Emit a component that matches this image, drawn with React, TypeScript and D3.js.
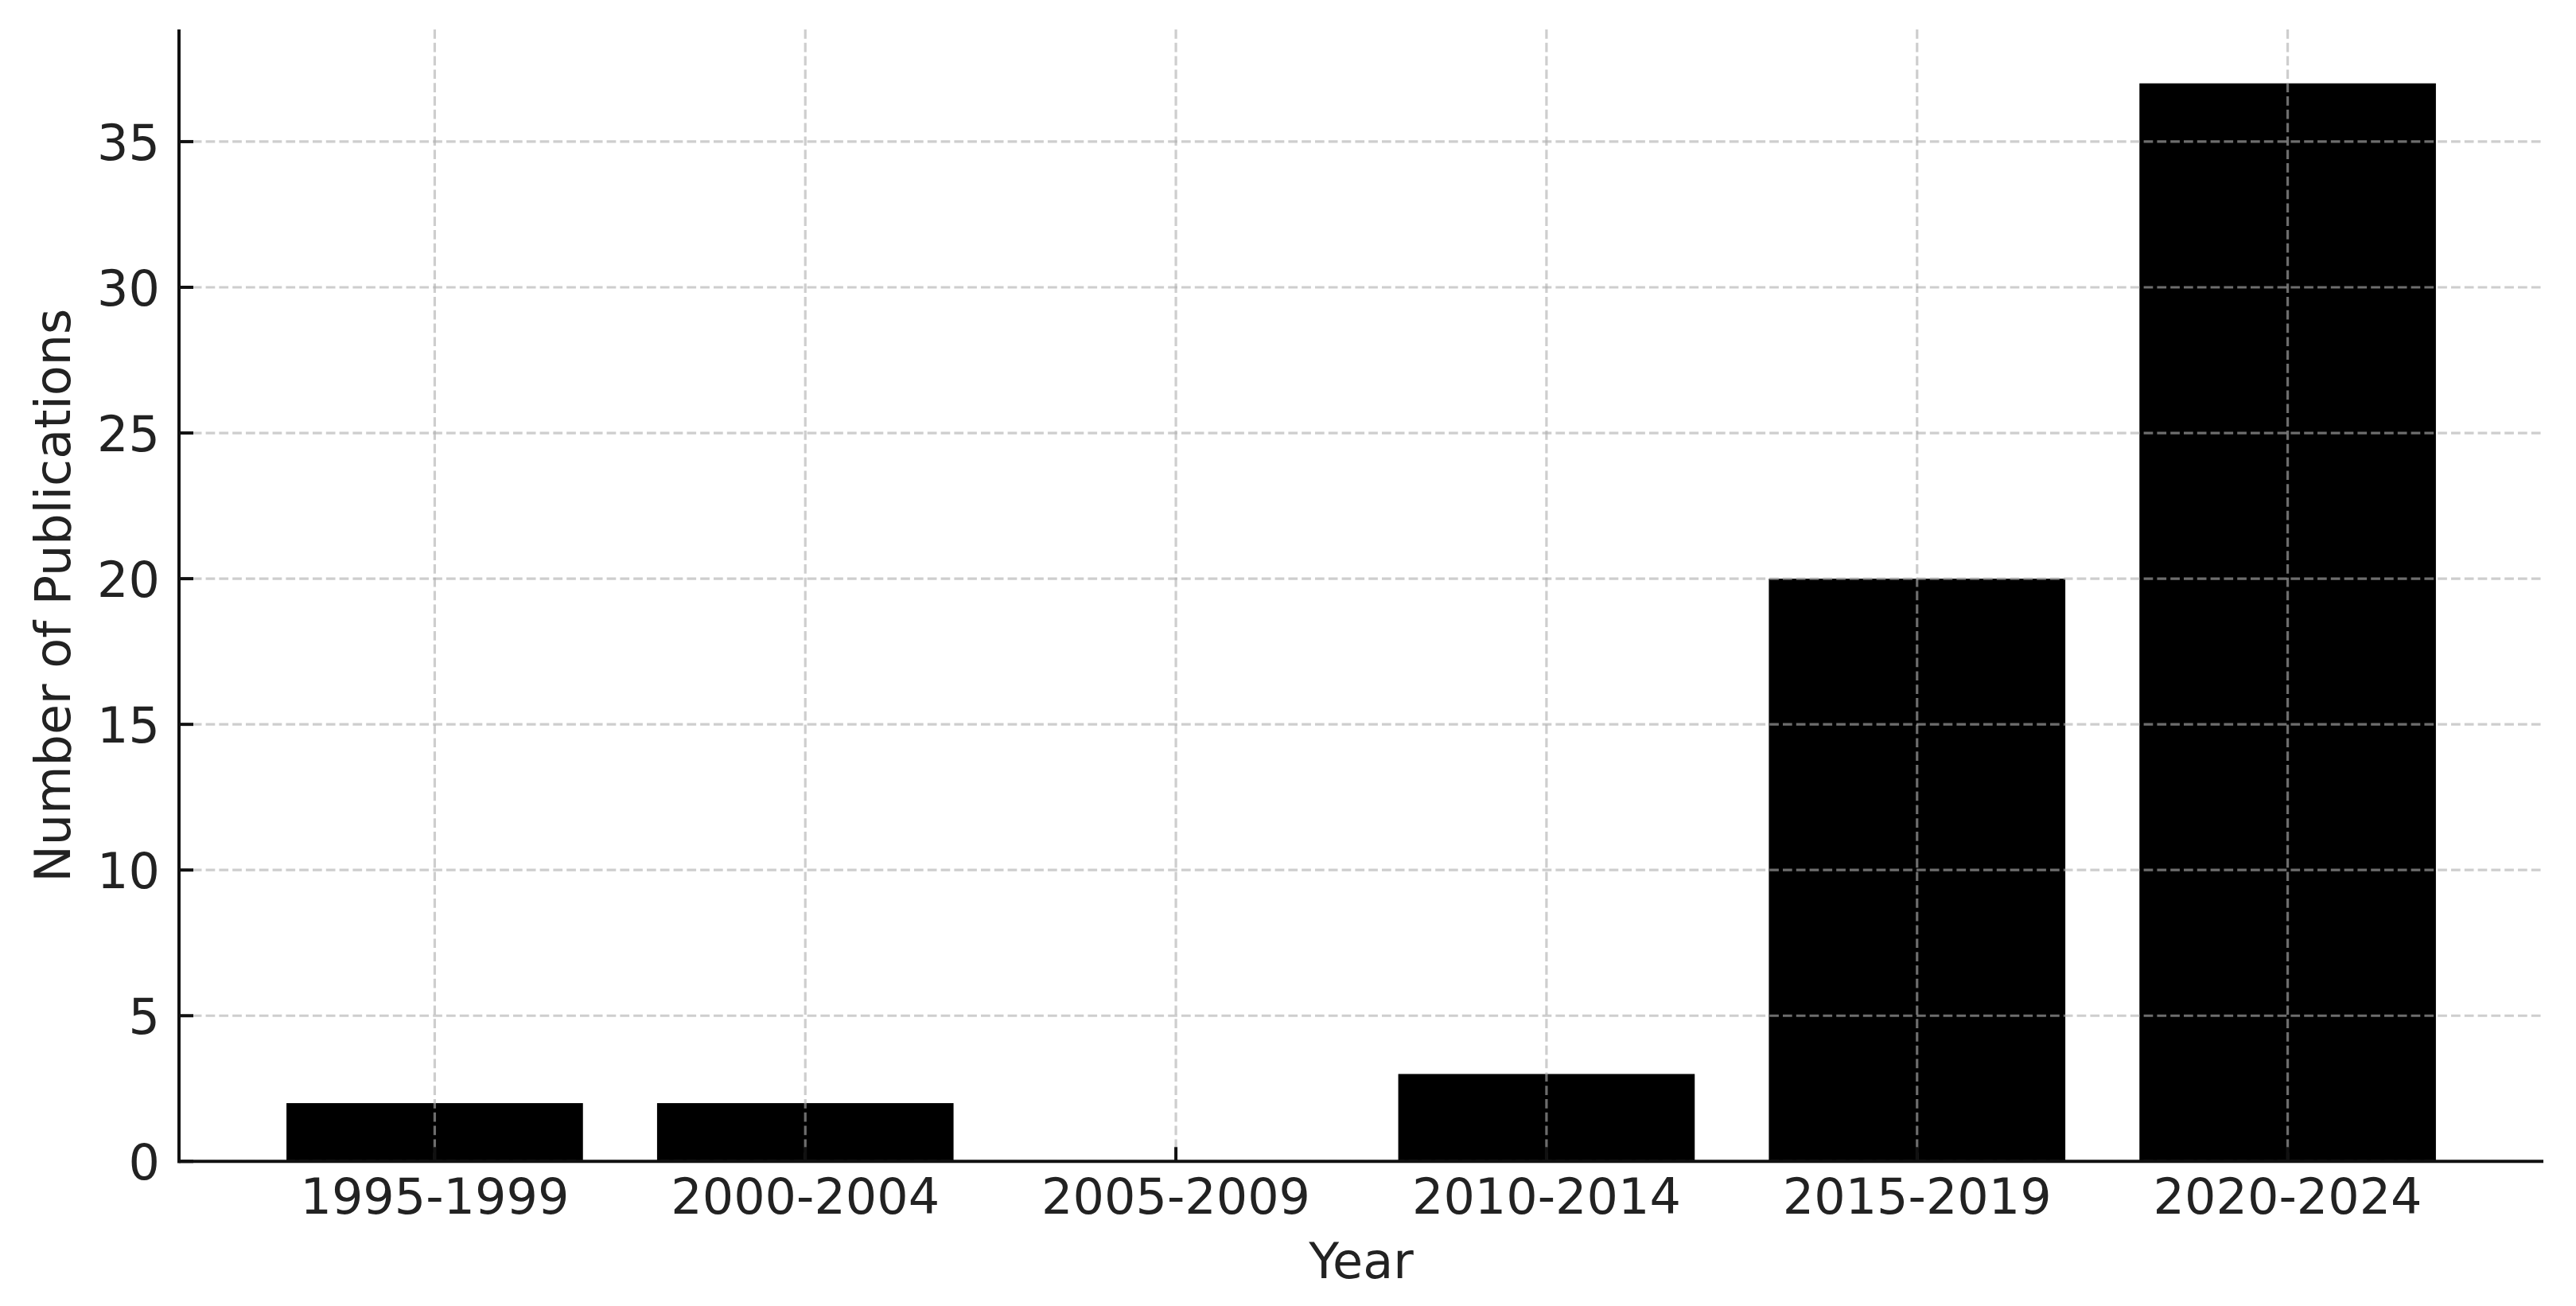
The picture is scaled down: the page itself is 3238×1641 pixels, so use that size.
import React from "react";
import * as d3 from "d3";

const categories = ["1995-1999", "2000-2004", "2005-2009", "2010-2014", "2015-2019", "2020-2024"];
const publications = [2, 2, 0, 3, 20, 37];
const yTicks = [0, 5, 10, 15, 20, 25, 30, 35];
const xLabel = "Year";
const yLabel = "Number of Publications";

const W = 3238;
const H = 1641;
const left = 225;
const right = 3197;
const top = 37;
const bottom = 1459.3;
const FONT = "'DejaVu Sans', sans-serif";
const FS = 62;
const TEXT = "#222";

export default function App() {
  const x = d3.scaleBand<string>().domain(categories).range([left, right]).paddingInner(0.2).paddingOuter(0.29);
  const y = d3.scaleLinear().domain([0, d3.max(publications)! * 1.05]).range([bottom, top]);
  const gridStyle = { stroke: "#b0b0b0", strokeOpacity: 0.62, strokeWidth: 3.2, strokeDasharray: "11.7 5.1" };
  const center = (c: string) => x(c)! + x.bandwidth() / 2;

  return (
    <svg width={W} height={H} style={{ position: "absolute", left: 0, top: 0, background: "#fff" }} xmlns="http://www.w3.org/2000/svg">
      <rect x={0} y={0} width={W} height={H} fill="#fff" />
      {/* bars */}
      {categories.map((c, i) => (
        <rect key={c} x={x(c)} y={y(publications[i])} width={x.bandwidth()} height={y(0) - y(publications[i])} fill="#000" />
      ))}
      {/* grid */}
      {yTicks.map((t) => (
        <line key={"gy" + t} x1={left} x2={right} y1={y(t)} y2={y(t)} {...gridStyle} />
      ))}
      {categories.map((c) => (
        <line key={"gx" + c} x1={center(c)} x2={center(c)} y1={top} y2={bottom} {...gridStyle} />
      ))}
      {/* ticks (inward) */}
      {yTicks.map((t) => (
        <line key={"ty" + t} x1={left} x2={left + 18} y1={y(t)} y2={y(t)} stroke="#111" strokeWidth={4} />
      ))}
      {categories.map((c) => (
        <line key={"tx" + c} x1={center(c)} x2={center(c)} y1={bottom} y2={bottom - 18} stroke="#111" strokeWidth={4} />
      ))}
      {/* spines */}
      <line x1={left} x2={left} y1={top} y2={bottom + 2} stroke="#111" strokeWidth={4} />
      <line x1={left - 2} x2={right} y1={bottom} y2={bottom} stroke="#111" strokeWidth={4} />
      {/* tick labels */}
      {yTicks.map((t) => (
        <text key={"ly" + t} x={201} y={y(t) + 23} textAnchor="end" fontFamily={FONT} fontSize={FS} fill={TEXT}>
          {t}
        </text>
      ))}
      {categories.map((c) => (
        <text key={"lx" + c} x={center(c)} y={1525} textAnchor="middle" fontFamily={FONT} fontSize={FS} fill={TEXT}>
          {c}
        </text>
      ))}
      {/* axis labels */}
      <text x={(left + right) / 2} y={1606} textAnchor="middle" fontFamily={FONT} fontSize={FS} fill={TEXT}>
        {xLabel}
      </text>
      <text transform={`translate(88, ${(top + bottom) / 2}) rotate(-90)`} textAnchor="middle" fontFamily={FONT} fontSize={FS} fill={TEXT}>
        {yLabel}
      </text>
    </svg>
  );
}
